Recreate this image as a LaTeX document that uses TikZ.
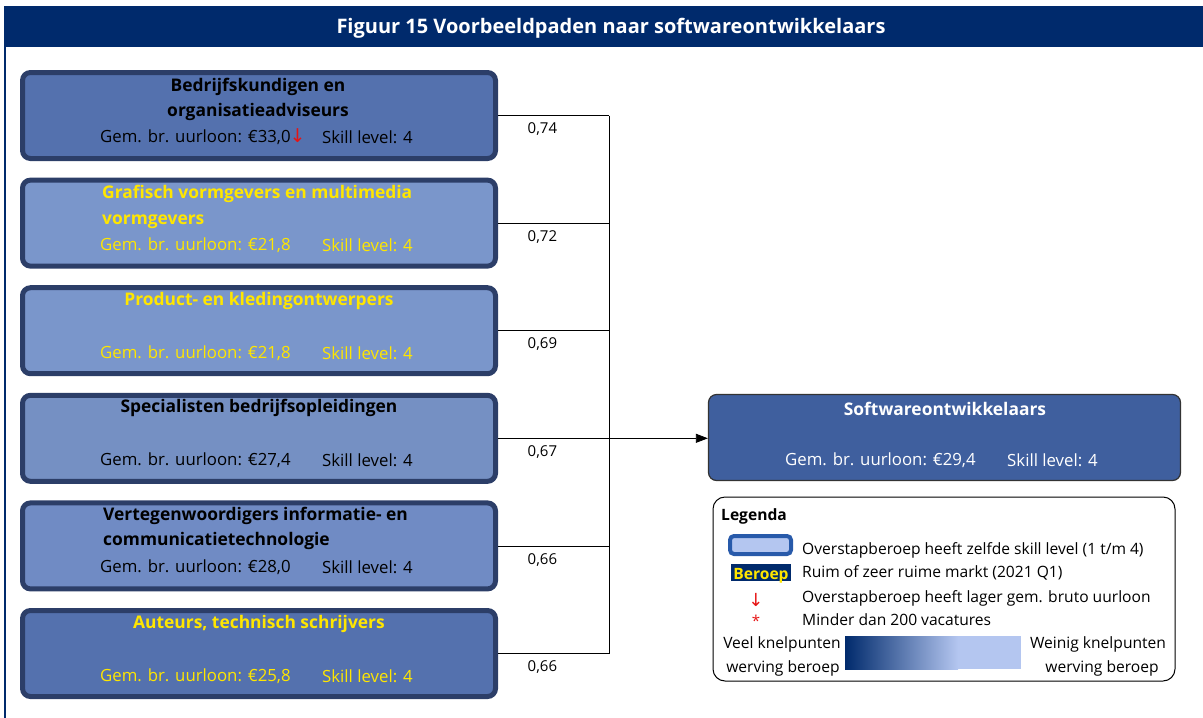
\documentclass[tikz,border=0pt]{standalone}
\usepackage{fontspec}
\setmainfont{Open Sans}
\newfontfamily\pijlfont{DejaVu Sans}
\usetikzlibrary{arrows.meta}

\definecolor{navy}{RGB}{0,42,108}
\definecolor{randblauw}{RGB}{44,62,104}
\definecolor{donkervak}{RGB}{84,113,174}
\definecolor{lichtvak}{RGB}{122,150,203}
\definecolor{middenvak}{RGB}{112,139,196}
\definecolor{doelblauw}{RGB}{63,95,158}
\definecolor{geel}{RGB}{255,230,0}
\definecolor{rood}{RGB}{230,20,20}
\definecolor{iconrand}{RGB}{40,90,170}
\definecolor{lichtblauw}{RGB}{180,198,240}

\tikzset{
  beroep/.style={draw=randblauw, line width=5pt, rounded corners=8pt,
    minimum width=473pt, minimum height=86pt, inner sep=0pt, outer sep=2.5pt},
  doel/.style={draw=black!80, fill=doelblauw, line width=1.2pt, rounded corners=8pt,
    minimum width=472pt, minimum height=86pt, inner sep=0pt, outer sep=0.6pt},
  tekst/.style={font=\fontsize{16.8}{25}\selectfont, inner sep=0pt},
  kop/.style={font=\bfseries\fontsize{17.4}{25.5}\selectfont, inner sep=0pt},
  lijn/.style={black, line width=0.8pt},
  gewicht/.style={anchor=north, pos=0.4, yshift=-7pt, inner sep=0pt,
    font=\fontsize{15}{17}\selectfont},
  legtekst/.style={anchor=west, inner sep=0pt, font=\fontsize{15.6}{18}\selectfont},
}

\begin{document}
\begin{tikzpicture}[x=1pt,y=-1pt]
\useasboundingbox (0,0) rectangle (1203,718);

% titelbalk en kader
\fill[navy] (4,6) rectangle (1203,47);
\node[font=\bfseries\fontsize{20}{24}\selectfont, text=white] (titel) at (611,28)
  {Figuur 15 Voorbeeldpaden naar softwareontwikkelaars};
\draw[navy, line width=2pt] (5,47) -- (5,718);

% overstapberoepen
\node[beroep, fill=donkervak] (b1) at (259,115.5) {};
\node[kop, align=center] (b1k) at (258,99.5) {Bedrijfskundigen en\\organisatieadviseurs};
\node[tekst, anchor=west] (b1l) at (100,137) {Gem. br. uurloon: €33,0\kern-1pt{\color{rood}\pijlfont\fontsize{19}{25}\selectfont ↓}};
\node[tekst, anchor=west] (b1s) at (322,137) {Skill level: 4};

\node[beroep, fill=lichtvak] (b2) at (259,223.1) {};
\node[kop, align=left, anchor=west, text=geel] (b2k) at (102,207) {Grafisch vormgevers en multimedia\\vormgevers};
\node[tekst, anchor=west, text=geel] (b2l) at (100,245) {Gem. br. uurloon: €21,8};
\node[tekst, anchor=west, text=geel] (b2s) at (322,245) {Skill level: 4};

\node[beroep, fill=lichtvak] (b3) at (259,330.7) {};
\node[kop, text=geel] (b3k) at (259,301) {Product- en kledingontwerpers};
\node[tekst, anchor=west, text=geel] (b3l) at (100,353) {Gem. br. uurloon: €21,8};
\node[tekst, anchor=west, text=geel] (b3s) at (322,353) {Skill level: 4};

\node[beroep, fill=lichtvak!96!black] (b4) at (259,438.3) {};
\node[kop] (b4k) at (259,408) {Specialisten bedrijfsopleidingen};
\node[tekst, anchor=west] (b4l) at (100,460) {Gem. br. uurloon: €27,4};
\node[tekst, anchor=west] (b4s) at (322,460) {Skill level: 4};

\node[beroep, fill=middenvak] (b5) at (259,545.9) {};
\node[kop, align=left, anchor=west] (b5k) at (103,528.5) {Vertegenwoordigers informatie- en\\communicatietechnologie};
\node[tekst, anchor=west] (b5l) at (100,567) {Gem. br. uurloon: €28,0};
\node[tekst, anchor=west] (b5s) at (322,567) {Skill level: 4};

\node[beroep, fill=donkervak] (b6) at (259,653.5) {};
\node[kop, text=geel] (b6k) at (259,624) {Auteurs, technisch schrijvers};
\node[tekst, anchor=west, text=geel] (b6l) at (100,676) {Gem. br. uurloon: €25,8};
\node[tekst, anchor=west, text=geel] (b6s) at (322,676) {Skill level: 4};

% doelberoep
\node[doel] (doel) at (944.5,437.5) {};
\node[kop, text=white] (doelk) at (945,409) {Softwareontwikkelaars};
\node[tekst, anchor=west, text=white] (doell) at (785,460) {Gem. br. uurloon: €29,4};
\node[tekst, anchor=west, text=white] (doels) at (1007,460) {Skill level: 4};

% verbindingen
\coordinate (j1) at (609,115.5);
\coordinate (j2) at (609,223.1);
\coordinate (j3) at (609,330.7);
\coordinate (j4) at (609,438.3);
\coordinate (j5) at (609,545.9);
\coordinate (j6) at (609,653.5);
\draw[lijn] (b1.east) -- node[gewicht] (w1) {0,74} (j1);
\draw[lijn] (b2.east) -- node[gewicht] (w2) {0,72} (j2);
\draw[lijn] (b3.east) -- node[gewicht] (w3) {0,69} (j3);
\draw[lijn] (b4.east) -- node[gewicht] (w4) {0,67} (j4);
\draw[lijn] (b5.east) -- node[gewicht] (w5) {0,66} (j5);
\draw[lijn] (b6.east) -- node[gewicht] (w6) {0,66} (j6);
\draw[lijn] (j1) -- (j6);
\draw[lijn, -{Triangle[length=12pt,width=9pt]}] (j4) -- (j4 -| doel.west);

% legenda
\node[draw=black, line width=1pt, rounded corners=12pt, minimum width=462pt,
  minimum height=184pt, inner sep=0pt] (leg) at (944,589) {};
\node[anchor=west, inner sep=0pt, font=\bfseries\fontsize{15.6}{18}\selectfont] (legk) at (721,516) {Legenda};
\node[draw=iconrand, line width=4pt, fill=lichtblauw, rounded corners=4pt,
  minimum width=61pt, minimum height=18pt, inner sep=0pt] (ic1) at (760.5,545) {};
\node[legtekst] (lt1) at (802,550) {Overstapberoep heeft zelfde skill level (1 t/m 4)};
\node[fill=navy, minimum width=60pt, minimum height=17pt, inner sep=0pt] (ic2) at (761,572.5) {};
\node[inner sep=0pt, text=geel, font=\bfseries\fontsize{15.6}{18}\selectfont] (ic2t) at (761,576) {Beroep};
\node[legtekst] (lt2) at (802,573) {Ruim of zeer ruime markt (2021 Q1)};
\node[inner sep=0pt, text=rood, font=\pijlfont\fontsize{18}{20}\selectfont] (ic3) at (756,600) {↓};
\node[legtekst] (lt3) at (802,598) {Overstapberoep heeft lager gem. bruto uurloon};
\node[inner sep=0pt, text=rood, font=\fontsize{15}{18}\selectfont] (ic4) at (756,621) {*};
\node[legtekst] (lt4) at (802,620) {Minder dan 200 vacatures};
\shade[left color=navy, right color=lichtblauw] (845,636) rectangle (958,669);
\fill[lichtblauw] (958,636) rectangle (1021,669);
\node[inner sep=0pt, font=\fontsize{15.6}{18}\selectfont] (veel1) at (782,644) {Veel knelpunten};
\node[inner sep=0pt, font=\fontsize{15.6}{18}\selectfont] (veel2) at (783,668) {werving beroep};
\node[inner sep=0pt, font=\fontsize{15.6}{18}\selectfont] (wein1) at (1098,644) {Weinig knelpunten};
\node[inner sep=0pt, font=\fontsize{15.6}{18}\selectfont] (wein2) at (1102,668) {werving beroep};
\end{tikzpicture}
\end{document}
